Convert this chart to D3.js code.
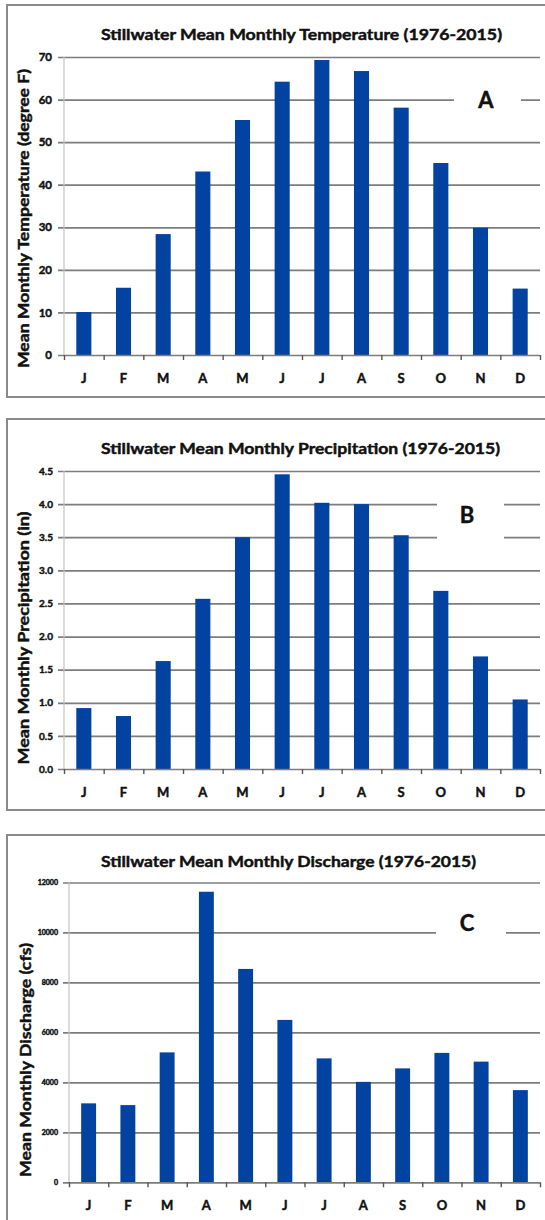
<!DOCTYPE html>
<html>
<head>
<meta charset="utf-8">
<script src="https://cdn.jsdelivr.net/npm/d3@7"></script>
<style>
  html, body { margin: 0; padding: 0; background: #fff; }
  svg { display: block; }
  text { font-family: Lato, "Open Sans", sans-serif; font-weight: bold; fill: #111; stroke: #111; stroke-width: 0.45px; }
</style>
</head>
<body>
<svg id="chart" width="545" height="1220"></svg>
<script>
// ---------- data ----------
const months = ["J", "F", "M", "A", "M", "J", "J", "A", "S", "O", "N", "D"];
const temperature = [10.1, 15.8, 28.4, 43.1, 55.2, 64.2, 69.3, 66.7, 58.1, 45.1, 29.9, 15.6];
const precipitation = [0.92, 0.80, 1.63, 2.57, 3.50, 4.45, 4.02, 4.00, 3.53, 2.69, 1.70, 1.05];
const discharge = [3160, 3090, 5200, 11630, 8540, 6500, 4960, 4020, 4560, 5180, 4830, 3690];
const tempTicks = [0, 10, 20, 30, 40, 50, 60, 70];
const precipTicks = [0, 0.5, 1.0, 1.5, 2.0, 2.5, 3.0, 3.5, 4.0, 4.5];
const dischargeTicks = [0, 2000, 4000, 6000, 8000, 10000, 12000];
const titles = [
  "Stillwater Mean Monthly Temperature (1976-2015)",
  "Stillwater Mean Monthly Precipitation (1976-2015)",
  "Stillwater Mean Monthly Discharge (1976-2015)"
];
const yTitles = [
  "Mean Monthly Temperature (degree F)",
  "Mean Monthly Precipitation (in)",
  "Mean Monthly Discharge (cfs)"
];
const panelLetters = ["A", "B", "C"];

// ---------- layout ----------
const svg = d3.select("#chart");
const BAR = "#0242a0";
const GRID = "#7d7d7d";

const panels = [
  { values: temperature, ticks: tempTicks, fmt: d => d3.format("d")(d),
    box: [7, 5, 560, 392], title: titles[0], titleX: 101, titleY: 40, titleLen: 401,
    yTitle: yTitles[0], yTitleX: 29, yTitleY: 218.5, yTitleLen: 299,
    x0: 64, x1: 540, yTop: 57, yBot: 355, tickFont: 11.5, tickEnd: 52,
    letter: panelLetters[0], letterX: 486, letterY: 108, gap: [454, 84, 67, 40] },
  { values: precipitation, ticks: precipTicks, fmt: d => d3.format(".1f")(d),
    box: [7, 419, 560, 391], title: titles[1], titleX: 101, titleY: 454, titleLen: 399,
    yTitle: yTitles[1], yTitleX: 29, yTitleY: 638, yTitleLen: 253,
    x0: 64, x1: 540, yTop: 471, yBot: 769, tickFont: 10, tickEnd: 53,
    letter: panelLetters[1], letterX: 467, letterY: 523, gap: [437, 492, 67, 56] },
  { values: discharge, ticks: dischargeTicks, fmt: d => d3.format("d")(d),
    box: [7, 835, 560, 400], title: titles[2], titleX: 101, titleY: 867, titleLen: 375,
    yTitle: yTitles[2], yTitleX: 31, yTitleY: 1060, yTitleLen: 234,
    x0: 69, x1: 540, yTop: 882.5, yBot: 1182.3, tickFont: 7, tickEnd: 58,
    letter: panelLetters[2], letterX: 467, letterY: 931, gap: [436, 908, 70, 42] }
];

panels.forEach(p => {
  const g = svg.append("g");

  // panel border
  g.append("rect")
    .attr("x", p.box[0]).attr("y", p.box[1])
    .attr("width", p.box[2]).attr("height", p.box[3])
    .attr("fill", "#fff").attr("stroke", "#8a8a8a").attr("stroke-width", 2);

  const y = d3.scaleLinear()
    .domain([0, d3.max(p.ticks)])
    .range([p.yBot, p.yTop]);
  const x = d3.scaleBand()
    .domain(d3.range(months.length))
    .range([p.x0, p.x1])
    .paddingInner(0.62).paddingOuter(0.31);
  const xb = d3.scaleLinear().domain([0, months.length]).range([p.x0, p.x1]);

  // gridlines (extending left as outer ticks)
  const grid = g.append("g")
    .attr("transform", `translate(${p.x0 - 6},0)`)
    .call(d3.axisLeft(y).tickValues(p.ticks.slice(1)).tickSize(-(p.x1 - p.x0 + 6)).tickFormat(""));
  grid.select(".domain").remove();
  grid.selectAll("line").attr("stroke", GRID).attr("stroke-width", 1.7);

  // y axis line
  g.append("line")
    .attr("x1", p.x0).attr("x2", p.x0)
    .attr("y1", p.yTop).attr("y2", p.yBot)
    .attr("stroke", "#c4c4c4").attr("stroke-width", 1.2);

  // y tick labels
  const yl = g.append("g")
    .attr("transform", `translate(${p.tickEnd},0)`)
    .call(d3.axisLeft(y).tickValues(p.ticks).tickSize(0).tickPadding(0).tickFormat(p.fmt));
  yl.select(".domain").remove();
  yl.selectAll("text")
    .attr("font-size", p.tickFont)
    .style("font-family", "Lato, sans-serif").style("font-weight", "bold")
    .attr("fill", "#111").attr("stroke", "#111").attr("stroke-width", 0.4);

  // letter label with white backing
  g.append("rect")
    .attr("x", p.gap[0]).attr("y", p.gap[1])
    .attr("width", p.gap[2]).attr("height", p.gap[3])
    .attr("fill", "#fff");
  g.append("text")
    .attr("x", p.letterX).attr("y", p.letterY)
    .attr("text-anchor", "middle")
    .attr("font-size", 22)
    .text(p.letter);

  // bars
  g.selectAll("rect.bar")
    .data(p.values)
    .join("rect")
    .attr("class", "bar")
    .attr("x", (d, i) => x(i))
    .attr("width", x.bandwidth())
    .attr("y", d => y(d))
    .attr("height", d => y(0) - y(d))
    .attr("fill", BAR);

  // x axis with ticks at band boundaries
  const xa = g.append("g")
    .attr("transform", `translate(0,${p.yBot})`)
    .call(d3.axisBottom(xb).tickValues(d3.range(months.length + 1)).tickSize(5).tickSizeOuter(0).tickFormat(""));
  xa.select(".domain").attr("stroke", GRID).attr("stroke-width", 1.7)
    .attr("d", `M${p.x0 - 6},0.5H${p.x1}`);
  xa.selectAll(".tick line").attr("stroke", "#555").attr("stroke-width", 1.4);

  // x labels
  const xlab = g.append("g")
    .attr("transform", `translate(0,${p.yBot + 28})`)
    .call(d3.axisBottom(x).tickSize(0).tickPadding(0).tickFormat(i => months[i]));
  xlab.select(".domain").remove();
  xlab.selectAll("text")
    .attr("dy", 0).attr("y", 0)
    .attr("font-size", 13)
    .style("font-family", "Lato, sans-serif").style("font-weight", "bold")
    .attr("fill", "#111").attr("stroke", "#111").attr("stroke-width", 0.45);

  // title
  g.append("text")
    .attr("x", p.titleX).attr("y", p.titleY)
    .attr("font-size", 15)
    .attr("textLength", p.titleLen).attr("lengthAdjust", "spacingAndGlyphs")
    .text(p.title);

  // y title
  g.append("text")
    .attr("transform", `translate(${p.yTitleX},${p.yTitleY}) rotate(-90)`)
    .attr("text-anchor", "middle")
    .attr("font-size", 15)
    .attr("textLength", p.yTitleLen).attr("lengthAdjust", "spacingAndGlyphs")
    .text(p.yTitle);
});
</script>
</body>
</html>
